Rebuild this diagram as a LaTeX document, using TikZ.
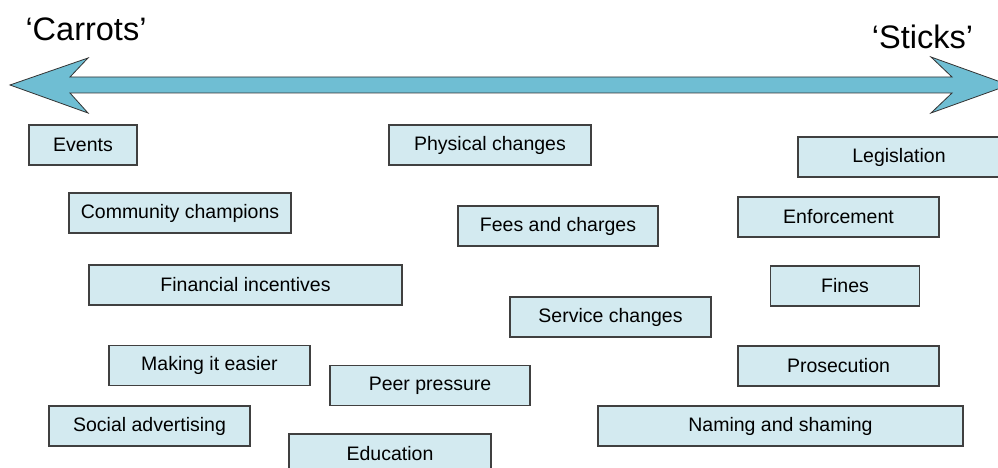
\documentclass[tikz,border=0pt]{standalone}
\usepackage{fontspec}
\setmainfont{Liberation Sans}
\usetikzlibrary{positioning}

\definecolor{boxfill}{RGB}{211,234,240}
\definecolor{arrowfill}{RGB}{111,190,211}
\definecolor{boxedge}{RGB}{64,64,64}

\tikzset{
  lever/.style={draw=boxedge, line width=1.1pt, fill=boxfill, inner sep=0pt,
    minimum height=40pt, font=\fontsize{19.5}{23}\selectfont},
  heading/.style={anchor=base, inner sep=0pt, font=\fontsize{32.5}{38}\selectfont}
}

\begin{document}
\begin{tikzpicture}[x=1pt, y=-1pt]
    \clip (0,0) rectangle (998,468);

    % Headings at both ends
    \node[heading] (carrots) at (86,41) {‘Carrots’};
    \node[heading] (sticks) at (922.5,49) {‘Sticks’};

    % Double-headed scale arrow
    \draw[fill=arrowfill, draw=black!80, line width=0.8pt]
        (10,85) -- (88,58) -- (70,77) -- (952,77) -- (931,57) -- (1009,85)
        -- (931,113) -- (952,93) -- (70,93) -- (88,113) -- cycle;

    % Left column: carrots
    \node[lever, minimum width=108pt] (events) at (83,145) {Events};
    \node[lever, minimum width=222pt] (champions) at (180,213) {Community champions};
    \node[lever, minimum width=313pt] (incentives) at (245.5,285) {Financial incentives};
    \node[lever, minimum width=201pt] (easier) at (209.5,365.5) {Making it easier};
    \node[lever, minimum width=201pt] (advertising) at (149.5,426) {Social advertising};

    % Middle
    \node[lever, minimum width=202pt] (physical) at (490,145) {Physical changes};
    \node[lever, minimum width=200pt] (fees) at (558,226) {Fees and charges};
    \node[lever, minimum width=201pt] (service) at (610.5,317) {Service changes};
    \node[lever, minimum width=200pt] (peer) at (430,385.5) {Peer pressure};
    \node[lever, minimum width=202pt] (education) at (390,454) {Education};

    % Right column: sticks
    \node[lever, minimum width=202pt] (legislation) at (899,157) {Legislation};
    \node[lever, minimum width=201pt] (enforcement) at (838.5,217) {Enforcement};
    \node[lever, minimum width=149pt] (fines) at (845,286) {Fines};
    \node[lever, minimum width=201pt] (prosecution) at (838.5,366) {Prosecution};
    \node[lever, minimum width=365pt] (naming) at (780.5,426) {Naming and shaming};
\end{tikzpicture}
\end{document}
